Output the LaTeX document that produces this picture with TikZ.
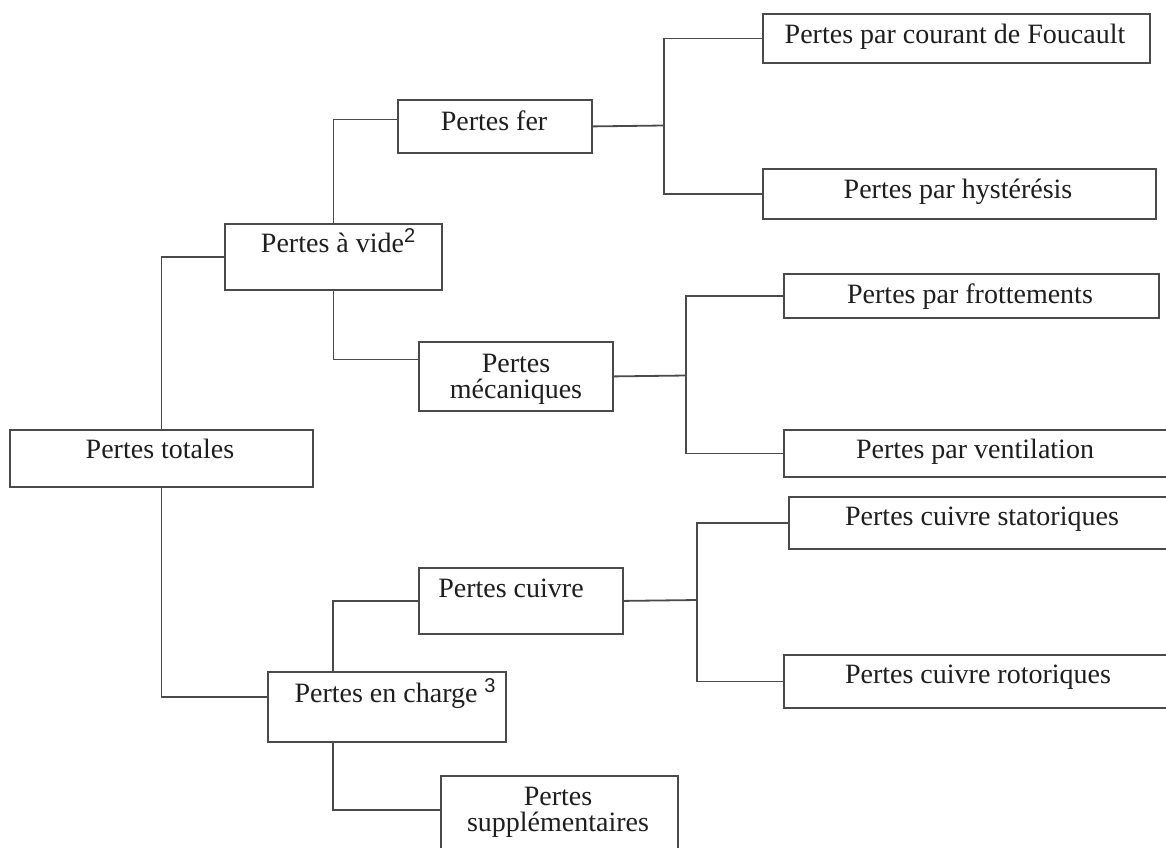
\documentclass[tikz,border=0pt]{standalone}
\usepackage{fontspec}
\setmainfont{Liberation Serif}
\newfontfamily\supfont{Liberation Sans}
\definecolor{trait}{HTML}{4A4A4A}
\definecolor{encre}{HTML}{1E1E1E}
\newcommand{\expo}[2]{\rlap{#1\raisebox{9.5pt}{\supfont\fontsize{20}{20}\selectfont #2}}}
\begin{document}
\begin{tikzpicture}[x=1pt, y=-1pt,
    boite/.style={draw=trait, line width=1.8pt, inner sep=0pt, anchor=north west},
    txt/.style={text=encre, inner sep=0pt, anchor=base, align=center,
        font=\fontsize{28}{26}\selectfont},
    lien/.style={draw=trait, line width=1.8pt}]
    \clip (0, 0) rectangle (1166, 847);
    \fill[white] (0, 0) rectangle (1166, 847);
        % colonne 1
        \node[boite, minimum width=303pt, minimum height=57pt] (totales) at (9, 429){};
            \node[txt] (totalesT) at (160, 458){Pertes totales};
        % colonne 2
        \node[boite, minimum width=217pt, minimum height=66pt] (vide) at (224, 223){};
            \node[txt] (videT) at (332.5, 252){Pertes à vide\expo{}{2}};
        \node[boite, minimum width=238pt, minimum height=70pt] (charge) at (267, 671){};
            \node[txt] (chargeT) at (386, 702){Pertes en charge\expo{\ }{3}};
        % colonne 3
        \node[boite, minimum width=194pt, minimum height=53pt] (fer) at (397, 99){};
            \node[txt] (ferT) at (494, 130){Pertes fer};
        \node[boite, minimum width=194pt, minimum height=69pt] (meca) at (418, 341){};
            \node[txt] (mecaT) at (516, 398){Pertes\\mécaniques};
        \node[boite, minimum width=204pt, minimum height=66pt] (cuivre) at (418, 567){};
            \node[txt] (cuivreT) at (511, 597){Pertes cuivre};
        \node[boite, minimum width=237pt, minimum height=80pt] (supp) at (440, 775){};
            \node[txt] (suppT) at (558, 831){Pertes\\supplémentaires};
        % colonne 4
        \node[boite, minimum width=387pt, minimum height=49pt] (foucault) at (762, 13){};
            \node[txt] (foucaultT) at (955, 43){Pertes par courant de Foucault};
        \node[boite, minimum width=393pt, minimum height=50pt] (hyst) at (762, 168){};
            \node[txt] (hystT) at (958, 198){Pertes par hystérésis};
        \node[boite, minimum width=375pt, minimum height=44pt] (frott) at (783, 273){};
            \node[txt] (frottT) at (970, 303){Pertes par frottements};
        \node[boite, minimum width=390pt, minimum height=47pt] (vent) at (783, 429){};
            \node[txt] (ventT) at (975, 458){Pertes par ventilation};
        \node[boite, minimum width=390pt, minimum height=52pt] (stat) at (788, 496){};
            \node[txt] (statT) at (982, 525){Pertes cuivre statoriques};
        \node[boite, minimum width=390pt, minimum height=53pt] (rot) at (783, 654){};
            \node[txt] (rotT) at (978, 683){Pertes cuivre rotoriques};
        % liaisons
        \coordinate (ferJ) at (664, 125.5);
        \coordinate (mecaJ) at (686, 375.5);
        \coordinate (cuivreJ) at (697, 600);
        \draw[lien] (vide.west) -| (totales.north);
        \draw[lien] (totales.south) |- ([yshift=10pt]charge.west);
        \draw[lien] (vide.north) |- ([yshift=7pt]fer.west);
        \draw[lien] (vide.south) |- ([yshift=17pt]meca.west);
        \draw[lien] ([xshift=66pt]charge.north west) |- (cuivre.west);
        \draw[lien] ([xshift=66pt]charge.south west) |- ([yshift=6pt]supp.west);
        \draw[lien] (fer.east) -- (ferJ);
        \draw[lien] (foucault.west) -| (ferJ) |- (hyst.west);
        \draw[lien] (meca.east) -- (mecaJ);
        \draw[lien] (frott.west) -| (mecaJ) |- (vent.west);
        \draw[lien] (cuivre.east) -- (cuivreJ);
        \draw[lien] (stat.west) -| (cuivreJ) |- (rot.west);
\end{tikzpicture}
\end{document}
